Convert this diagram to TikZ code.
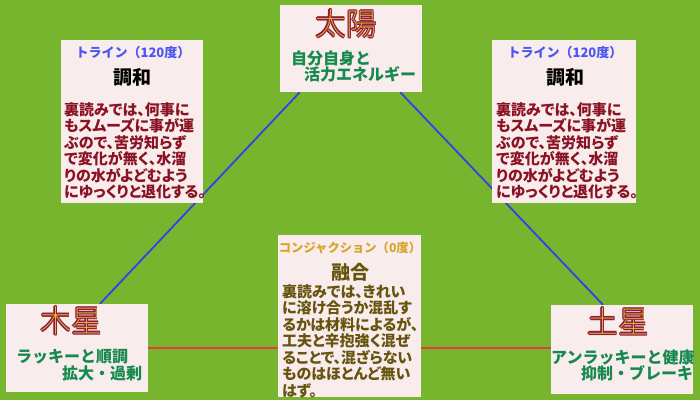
\documentclass[tikz,border=0pt]{standalone}
\usepackage{fontspec}
\setmainfont{Noto Sans CJK JP}[RawFeature=+palt]
\newfontfamily\jpfull{Noto Sans CJK JP}
\IfFontExistsTF{Noto Sans CJK JP Thin}{\newfontfamily\jpthin{Noto Sans CJK JP Thin}}{%
 \IfFontExistsTF{Noto Sans CJK JP Light}{\newfontfamily\jpthin{Noto Sans CJK JP Light}}{%
  \IfFontExistsTF{Noto Sans CJK JP DemiLight}{\newfontfamily\jpthin{Noto Sans CJK JP DemiLight}}{%
   \newfontfamily\jpthin{Noto Sans CJK JP}}}}
\usetikzlibrary{backgrounds}
\pgfdeclarelayer{canvas}
\pgfsetlayers{canvas,background,main}
\definecolor{bg}{RGB}{119,181,46}
\definecolor{boxfill}{RGB}{248,236,236}
\definecolor{ttlred}{RGB}{145,30,55}
\definecolor{ttlgold}{RGB}{228,190,60}
\definecolor{subgreen}{RGB}{22,138,78}
\definecolor{bodyred}{RGB}{138,18,34}
\definecolor{trineblue}{RGB}{75,85,240}
\definecolor{conjgold}{RGB}{215,165,40}
\definecolor{olive}{RGB}{102,84,14}
\definecolor{lineblue}{RGB}{60,60,235}
\definecolor{linered}{RGB}{230,60,60}
\newcommand\outl[1]{{\setbox0\hbox{#1}\setbox2\hbox{\jpthin #1}%
\color{ttlred}%
\rlap{\kern-0.9pt\copy0}\rlap{\kern0.9pt\copy0}\rlap{\raise0.9pt\copy0}\rlap{\lower0.9pt\copy0}%
\rlap{\copy0}\color{ttlgold}\box2}}
\begin{document}
\begin{tikzpicture}[x=1pt,y=-1pt,
  panel/.style={fill=boxfill, draw=none, inner sep=0pt},
  bigtitle/.style={inner sep=0pt, font=\fontsize{31}{31}\selectfont},
  subtxt/.style={inner sep=0pt, anchor=west, text=subgreen, font=\jpfull\fontsize{16}{16}\selectfont\bfseries},
  aspect/.style={inner sep=0pt, font=\jpfull\fontsize{13}{13}\selectfont\bfseries},
  keyword/.style={inner sep=0pt, font=\fontsize{19}{19}\selectfont\bfseries},
  bodytxt/.style={inner sep=0pt, anchor=north west, align=left, font=\fontsize{15}{16.5}\selectfont\bfseries},
  trineline/.style={draw=lineblue, line width=1.8pt},
  conjline/.style={draw=linered, line width=1.8pt}]
\begin{pgfonlayer}{canvas}
\fill[bg] (0,0) rectangle (700,400);
\end{pgfonlayer}
\useasboundingbox (0,0) rectangle (700,400);

% panels
\node[panel, minimum width=142pt, minimum height=87pt] (sun) at (351,48.5) {};
\node[panel, minimum width=142pt, minimum height=163pt] (trineL) at (132,121.5) {};
\node[panel, minimum width=144pt, minimum height=163pt] (trineR) at (564,121.5) {};
\node[panel, minimum width=143pt, minimum height=162pt] (conj) at (349.5,316) {};
\node[panel, minimum width=142pt, minimum height=88pt] (jup) at (77,348) {};
\node[panel, minimum width=142pt, minimum height=89pt] (sat) at (622,349.5) {};

% connectors
\coordinate (sunL) at ([xshift=20pt]sun.south west);
\coordinate (sunR) at ([xshift=-22pt]sun.south east);
\coordinate (jupT) at ([xshift=23pt]jup.north);
\coordinate (satT) at ([xshift=-19pt]sat.north);
\begin{scope}[on background layer]
\draw[trineline] (sunL) -- (jupT);
\draw[trineline] (sunR) -- (satT);
\draw[conjline] (jup.east) -- (jup.east -| sat.west);
\end{scope}

% Sun
\begin{scope}
\clip (sun.north west) rectangle (sun.south east);
\node[bigtitle] (sunT) at (346,24) {\outl{太陽}};
\node[subtxt] (sunS1) at (291,58) {自分自身と};
\node[subtxt] (sunS2) at (304,74) {活力エネルギー};
\end{scope}

% Trine left
\begin{scope}
\clip (trineL.north west) rectangle (trineL.south east);
\node[aspect, text=trineblue] (tLa) at (133,53) {トライン（120度）};
\node[keyword] (tLk) at (132,77) {調和};
\node[bodytxt, text=bodyred] (tLb) at (64,102) {裏読みでは、何事に\\もスムーズに事が運\\ぶので、苦労知らず\\で変化が無く、水溜\\りの水がよどむよう\\にゆっくりと退化する。};
\end{scope}

% Trine right
\begin{scope}
\clip (trineR.north west) rectangle (trineR.south east);
\node[aspect, text=trineblue] (tRa) at (565,53) {トライン（120度）};
\node[keyword] (tRk) at (565,77) {調和};
\node[bodytxt, text=bodyred] (tRb) at (496,102) {裏読みでは、何事に\\もスムーズに事が運\\ぶので、苦労知らず\\で変化が無く、水溜\\りの水がよどむよう\\にゆっくりと退化する。};
\end{scope}

% Conjunction
\begin{scope}
\clip (conj.north west) rectangle (conj.south east);
\node[aspect, text=conjgold, font=\jpfull\fontsize{12.3}{12.3}\selectfont\bfseries] (cA) at (350,248) {コンジャクション（0度）};
\node[keyword, text=olive] (cK) at (350,272) {融合};
\node[bodytxt, text=olive] (cB) at (282,284) {裏読みでは、きれい\\に溶け合うか混乱す\\るかは材料によるが、\\工夫と辛抱強く混ぜ\\ることで、混ざらない\\ものはほとんど無い\\はず。};
\end{scope}

% Jupiter
\begin{scope}
\clip (jup.north west) rectangle (jup.south east);
\node[bigtitle] (jT) at (71,321) {\outl{木星}};
\node[subtxt] (jS1) at (16,357) {ラッキーと順調};
\node[subtxt] (jS2) at (62,373) {拡大・過剰};
\end{scope}

% Saturn
\begin{scope}
\clip (sat.north west) rectangle (sat.south east);
\node[bigtitle] (sT) at (618,321) {\outl{土星}};
\node[subtxt] (sS1) at (551,357) {アンラッキーと健康};
\node[subtxt] (sS2) at (581,373) {抑制・ブレーキ};
\end{scope}
\end{tikzpicture}
\end{document}
